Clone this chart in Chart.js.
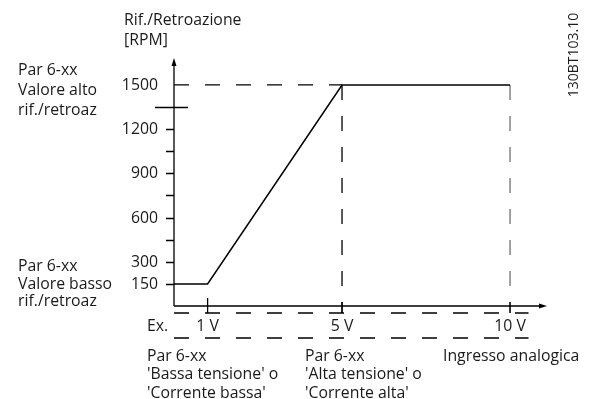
<!DOCTYPE html>
<html>
<head>
<meta charset="utf-8">
<script src="https://cdn.jsdelivr.net/npm/chart.js@4/dist/chart.umd.min.js"></script>
<style>
  html, body { margin: 0; padding: 0; background: #ffffff; }
  #wrap { width: 592px; height: 399px; }
</style>
</head>
<body>
<div id="wrap"><canvas id="c" width="592" height="399"></canvas></div>
<script>
// Analog input (V) against reference / feedback (RPM)
const inputVolts = [0, 1, 5, 10];
const referenceRPM = [150, 150, 1500, 1500];

// Key points of the scaling: low end, high end, full scale
const lowVolt = 1, highVolt = 5, fullVolt = 10;
const lowRef = 150, highRef = 1500;

// Y axis ticks: labelled values, plain marks and the high-reference mark
const yTickLabels = [150, 300, 600, 900, 1200, 1500];
const yTickMarks = [150, 300, 450, 600, 750, 900, 1050, 1200];
const yLongMark = 1350;

// X axis tick labels
const xTickValues = [1, 5, 10];
const xTickLabels = ['1 V', '5 V', '10 V'];

const INK = '#1a1a1a';
const FONT = '15.8px "Open Sans", "Noto Sans", sans-serif';
const DASH = [15, 16];

// the two dashed rows of the example table under the x axis
const rowTop = -47.5, rowBottom = -217, rowEnd = 10.55;

const line = (pts, extra) => Object.assign({
  data: pts,
  borderColor: '#000',
  borderWidth: 1.3,
  pointRadius: 0,
  fill: false,
  tension: 0,
  clip: false
}, extra || {});

const curve = inputVolts.map((v, i) => ({ x: v, y: referenceRPM[i] }));

const decorations = {
  id: 'decorations',
  afterDatasetsDraw(chart) {
    const { ctx, chartArea: a, scales: { x, y } } = chart;
    const x0 = x.getPixelForValue(0), y0 = y.getPixelForValue(0);
    ctx.save();
    ctx.strokeStyle = '#000';
    ctx.fillStyle = '#000';
    ctx.lineWidth = 1.3;

    // axes with arrow heads
    ctx.beginPath();
    ctx.moveTo(x0, y0); ctx.lineTo(x0, a.top + 4);
    ctx.moveTo(x0, y0); ctx.lineTo(a.right - 4, y0);
    ctx.stroke();
    ctx.beginPath();
    ctx.moveTo(x0, a.top); ctx.lineTo(x0 - 2.5, a.top + 8); ctx.lineTo(x0 + 2.5, a.top + 8); ctx.closePath();
    ctx.moveTo(a.right, y0); ctx.lineTo(a.right - 8, y0 - 2.5); ctx.lineTo(a.right - 8, y0 + 2.5); ctx.closePath();
    ctx.fill();

    // y tick marks
    ctx.beginPath();
    yTickMarks.forEach(v => {
      const py = Math.round(y.getPixelForValue(v)) + 0.5;
      ctx.moveTo(x0 - 8, py); ctx.lineTo(x0, py);
    });
    const pl = Math.round(y.getPixelForValue(yLongMark)) + 0.5;
    ctx.moveTo(x0 - 19, pl); ctx.lineTo(x0 + 14, pl);

    // x tick marks crossing the axis
    xTickValues.forEach(v => {
      const px = x.getPixelForValue(v);
      ctx.moveTo(px, y0 - (v === lowVolt ? 8 : 4)); ctx.lineTo(px, y.getPixelForValue(rowTop));
    });
    ctx.stroke();

    // y tick labels
    ctx.font = FONT;
    ctx.fillStyle = INK;
    ctx.textAlign = 'right';
    ctx.textBaseline = 'middle';
    yTickLabels.forEach(v => ctx.fillText(String(v), x0 - 16, y.getPixelForValue(v) + 0.5));

    // x tick labels between the dashed rows
    ctx.textAlign = 'center';
    ctx.textBaseline = 'alphabetic';
    const labelY = 331;
    xTickValues.forEach((v, i) => ctx.fillText(xTickLabels[i], x.getPixelForValue(v), labelY));
    ctx.textAlign = 'left';
    ctx.fillText('Ex.', 147, labelY);

    // axis titles and parameter notes
    const block = (lines, left, base, step) =>
      lines.forEach((t, i) => ctx.fillText(t, left, base + i * step));
    block(['Rif./Retroazione', '[RPM]'], 124, 25, 19.5);
    block(['Par 6-xx', 'Valore alto', 'rif./retroaz'], 18, 74.5, 20);
    block(['Par 6-xx', 'Valore basso', 'rif./retroaz'], 18, 271, 17.7);
    block(['Par 6-xx', "'Bassa tensione' o", "'Corrente bassa'"], 147, 360.5, 18.5);
    block(['Par 6-xx', "'Alta tensione' o", "'Corrente alta'"], 305, 360.5, 18.5);
    block(['Ingresso analogica'], 443, 360.5, 18.5);

    // drawing number, rotated
    ctx.save();
    ctx.translate(578, 55);
    ctx.rotate(-Math.PI / 2);
    ctx.textAlign = 'center';
    ctx.font = '14px "Open Sans", "Noto Sans", sans-serif';
    ctx.fillText('130BT103.10', 0, 0);
    ctx.restore();

    ctx.restore();
  }
};

new Chart(document.getElementById('c'), {
  type: 'line',
  data: {
    datasets: [
      line(curve, { borderWidth: 1.5 }),
      line([{ x: 0, y: highRef }, { x: highVolt, y: highRef }], { borderDash: DASH }),
      line([{ x: highVolt, y: highRef }, { x: highVolt, y: rowTop }], { borderDash: DASH }),
      line([{ x: fullVolt, y: highRef }, { x: fullVolt, y: rowTop }], { borderDash: DASH, borderColor: '#8c8c8c', borderWidth: 1.6 }),
      line([{ x: 0, y: rowTop }, { x: rowEnd, y: rowTop }], { borderDash: DASH }),
      line([{ x: 0, y: rowBottom }, { x: rowEnd, y: rowBottom }], { borderDash: DASH })
    ]
  },
  options: {
    responsive: false,
    devicePixelRatio: 1,
    animation: false,
    layout: { padding: { left: 174, right: 45, top: 58, bottom: 93 } },
    plugins: { legend: { display: false }, tooltip: { enabled: false } },
    scales: {
      x: { type: 'linear', min: 0, max: 11.1, display: false },
      y: { type: 'linear', min: 0, max: 1683, display: false }
    }
  },
  plugins: [decorations]
});
</script>
</body>
</html>
